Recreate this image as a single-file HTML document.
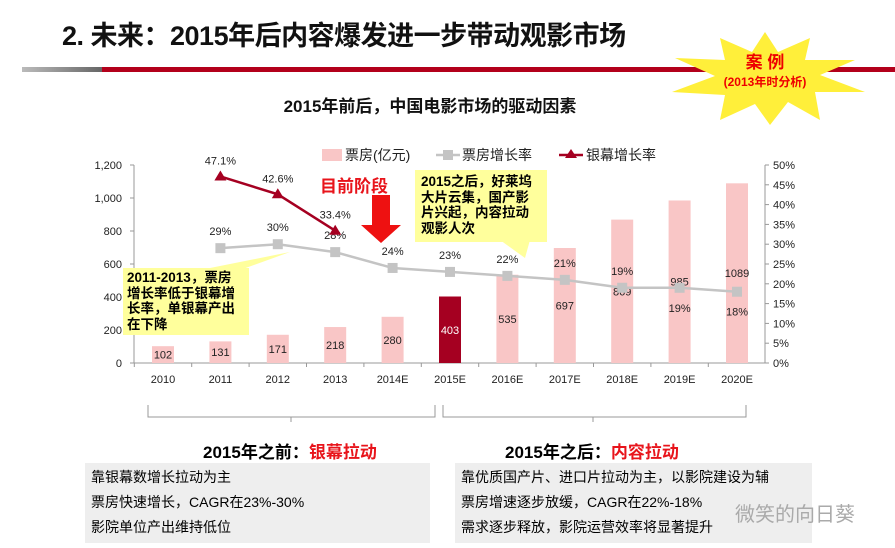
<!DOCTYPE html>
<html><head><meta charset="utf-8">
<style>
body{margin:0;width:895px;height:548px;overflow:hidden;background:#fff;font-family:"Liberation Sans","Noto Sans CJK SC",sans-serif;position:relative}
.abs{position:absolute}
</style></head><body>
<div class="abs" style="left:62px;top:14px;font-size:27px;font-weight:bold;color:#111;letter-spacing:-0.5px">2. 未来：2015年后内容爆发进一步带动观影市场</div>
<div class="abs" style="left:22px;top:67px;width:80px;height:5px;background:linear-gradient(90deg,#bbb,#666)"></div>
<div class="abs" style="left:102px;top:67px;width:793px;height:5px;background:#b3001b"></div>
<svg class="abs" style="left:660px;top:30px" width="210" height="95" viewBox="0 0 210 95">
<polygon points="105,2 118,22 150,8 145,30 195,30 160,45 205,62 155,62 160,90 128,72 110,95 95,74 60,90 65,65 12,62 55,46 15,28 65,30 60,8 92,22" fill="#ffef3a"/>
<text x="105" y="38" text-anchor="middle" font-size="17" font-weight="bold" fill="#e00">案 例</text>
<text x="105" y="56" text-anchor="middle" font-size="12" font-weight="bold" fill="#e00">(2013年时分析)</text>
</svg>
<div class="abs" style="left:0;width:860px;top:92px;text-align:center;font-size:17px;font-weight:bold;color:#111">2015年前后，中国电影市场的驱动因素</div>

<svg class="abs" id="chart" style="left:0;top:0" width="895" height="400"></svg>

<div class="abs" style="left:123px;top:268px;width:126px;height:67px;background:#ffff9c;font-size:13.5px;font-weight:bold;line-height:15.5px;padding:2px 4px;box-sizing:border-box;white-space:nowrap">2011-2013，票房<br>增长率低于银幕增<br>长率，单银幕产出<br>在下降</div>
<div class="abs" style="left:415px;top:170px;width:132px;height:72px;background:#ffff9c;font-size:13.5px;font-weight:bold;line-height:15.5px;padding:4px 6px;box-sizing:border-box;white-space:nowrap">2015之后，好莱坞<br>大片云集，国产影<br>片兴起，内容拉动<br>观影人次</div>
<div class="abs" style="left:320px;top:172px;font-size:17px;font-weight:bold;color:#e8141b">目前阶段</div>

<svg class="abs" style="left:0;top:400px" width="895" height="40">
<path d="M148,5 V17 H291 V22 M291,17 H435 V5" fill="none" stroke="#999"/>
<path d="M443,5 V17 H593 V22 M593,17 H746 V5" fill="none" stroke="#999"/>
</svg>
<div class="abs" style="left:203px;top:438px;font-size:17px;font-weight:bold">2015年之前：<span style="color:#e8141b">银幕拉动</span></div>
<div class="abs" style="left:505px;top:438px;font-size:17px;font-weight:bold">2015年之后：<span style="color:#e8141b">内容拉动</span></div>
<div class="abs" style="left:85px;top:463px;width:345px;height:80px;background:#eeeeee;font-size:14px;line-height:25px;padding:2px 6px;box-sizing:border-box">靠银幕数增长拉动为主<br>票房快速增长，CAGR在23%-30%<br>影院单位产出维持低位</div>
<div class="abs" style="left:455px;top:463px;width:357px;height:80px;background:#eeeeee;font-size:14px;line-height:25px;padding:2px 6px;box-sizing:border-box">靠优质国产片、进口片拉动为主，以影院建设为辅<br>票房增速逐步放缓，CAGR在22%-18%<br>需求逐步释放，影院运营效率将显著提升</div>
<div class="abs" style="left:735px;top:498px;font-size:20px;color:#aaa">微笑的向日葵</div>

<script>
const categories=["2010","2011","2012","2013","2014E","2015E","2016E","2017E","2018E","2019E","2020E"];
const boxOffice=[102,131,171,218,280,403,535,697,869,985,1089];
const boxGrowth=[null,29,30,28,24,23,22,21,19,19,18];
const screenGrowth=[null,47.1,42.6,33.4,null,null,null,null,null,null,null];
const leftTicks=[0,200,400,600,800,1000,1200];
const rightTicks=[0,5,10,15,20,25,30,35,40,45,50];
const NS="http://www.w3.org/2000/svg";
const svg=document.getElementById('chart');
const x0=163,step=57.4,yBase=363,yTop=165;
const xs=i=>x0+i*step;
const yL=v=>yBase-(v/1200)*(yBase-yTop);
const yR=v=>yBase-(v/50)*(yBase-yTop);
function mk(t,a,txt){const e=document.createElementNS(NS,t);for(const k in a)e.setAttribute(k,a[k]);if(txt!==undefined)e.textContent=txt;svg.appendChild(e);return e;}
let e;
e=mk('line',{x1:134,y1:yTop,x2:134,y2:yBase,stroke:'#999'});


e=mk('line',{x1:765,y1:yTop,x2:765,y2:yBase,stroke:'#999'});


e=mk('line',{x1:134,y1:yBase,x2:765,y2:yBase,stroke:'#999'});


leftTicks.forEach(v=>{
 e=mk('text',{x:122,y:yL(v)+4,'text-anchor':'end','font-size':11,fill:'#222'},v.toLocaleString('en-US'));
 
 
 mk('line',{x1:130,y1:yL(v),x2:134,y2:yL(v),stroke:'#999'});
});
rightTicks.forEach(v=>{
 e=mk('text',{x:773,y:yR(v)+4,'font-size':11,fill:'#222'},v+'%');
 
 
 mk('line',{x1:765,y1:yR(v),x2:769,y2:yR(v),stroke:'#999'});
});
categories.forEach((c,i)=>{
 e=mk('text',{x:xs(i),y:383,'text-anchor':'middle','font-size':11,fill:'#222'},c);
 
 
 mk('line',{x1:xs(i)-step/2,y1:yBase,x2:xs(i)-step/2,y2:yBase+4,stroke:'#999'});
});
boxOffice.forEach((v,i)=>{
 e=mk('rect',{x:xs(i)-11,y:yL(v),width:22,height:yBase-yL(v),fill:i===5?'#a50021':'#f9c6c6'});
 
 
 e=mk('text',{x:xs(i),y:yL(v/2)+4,'text-anchor':'middle','font-size':11,fill:i===5?'#fff':'#222'},v);
 
 
});
function line(arr,color,name){
 const pts=[];arr.forEach((v,i)=>{if(v!==null)pts.push([xs(i),yR(v)]);});
 e=mk('polyline',{points:pts.map(p=>p.join(',')).join(' '),fill:'none',stroke:color,'stroke-width':2.5});
 
 
}
line(boxGrowth,'#c4c4c4','box-office-growth-line');
line(screenGrowth,'#a50021','screen-growth-line');
boxGrowth.forEach((v,i)=>{
 if(v===null)return;
 e=mk('rect',{x:xs(i)-5,y:yR(v)-5,width:10,height:10,fill:'#c4c4c4'});
 
 
 const below=i>=9;
 e=mk('text',{x:xs(i),y:below?yR(v)+24:yR(v)-13,'text-anchor':'middle','font-size':11,fill:'#222'},v+'%');
 
 
});
screenGrowth.forEach((v,i)=>{
 if(v===null)return;
 const X=xs(i),Y=yR(v);
 e=mk('polygon',{points:`${X},${Y-6} ${X-6},${Y+4} ${X+6},${Y+4}`,fill:'#a50021'});
 
 
 e=mk('text',{x:X,y:Y-12,'text-anchor':'middle','font-size':11,fill:'#222'},v.toFixed(1)+'%');
 
 
});
e=mk('polygon',{points:'372,195 390,195 390,225 401,225 381,243 361,225 372,225',fill:'#ee1111'});


mk('polygon',{points:'200,270 240,270 290,252',fill:'#ffff9c'});
mk('polygon',{points:'500,240 530,240 525,258',fill:'#ffff9c'});
e=mk('rect',{x:322,y:149,width:20,height:12,fill:'#f9c6c6'});


mk('text',{x:345,y:160,'font-size':14,fill:'#222'},'票房(亿元)');
mk('line',{x1:436,y1:155,x2:460,y2:155,stroke:'#c4c4c4','stroke-width':2.5});
e=mk('rect',{x:443,y:150,width:10,height:10,fill:'#c4c4c4'});


mk('text',{x:462,y:160,'font-size':14,fill:'#222'},'票房增长率');
mk('line',{x1:559,y1:155,x2:583,y2:155,stroke:'#a50021','stroke-width':2.5});
e=mk('polygon',{points:'571,149 565,158 577,158',fill:'#a50021'});


mk('text',{x:586,y:160,'font-size':14,fill:'#222'},'银幕增长率');
</script>
</body></html>
